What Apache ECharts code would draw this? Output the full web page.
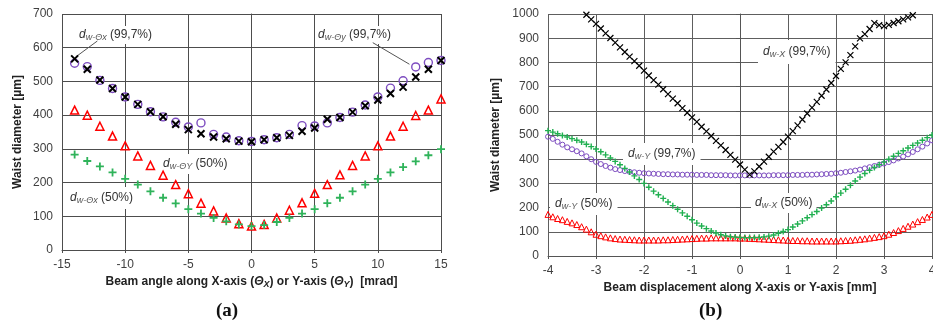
<!DOCTYPE html>
<html>
<head>
<meta charset="utf-8">
<script src="https://cdn.jsdelivr.net/npm/echarts@6/dist/echarts.min.js"></script>
<style>
html,body{margin:0;padding:0;background:#fff;}
#main{width:933px;height:324px;}
</style>
</head>
<body>
<div id="main"></div>
<script>
// ---------- (a) beam angle [mrad] ----------
const angle = [-14,-13,-12,-11,-10,-9,-8,-7,-6,-5,-4,-3,-2,-1,0,1,2,3,4,5,6,7,8,9,10,11,12,13,14,15];
// d w-θx (99,7%)  black x
const dThX997 = [567,536,504,479,454,432,410,395,373,357,345,335,330,323,321,327,333,340,352,362,388,393,409,428,445,464,483,513,536,562];
// d w-θy (99,7%)  purple circles
const dThY997 = [554,544,503,479,454,432,410,395,379,365,377,343,335,324,322,327,333,343,369,368,377,393,409,430,454,480,502,543,556,562];
// d w-θy (50%)  red triangles
const dThY50 = [415,400,367,338,309,279,251,222,194,167,139,116,95,78,71,76,95,118,140,168,194,223,251,279,309,338,367,399,415,448];
// d w-θx (50%)  green plus
const dThX50 = [283,264,248,230,211,194,174,155,138,121,108,95,85,76,71,74,83,95,108,121,139,155,174,194,211,230,246,263,281,299];

// ---------- (b) beam displacement [mm] ----------
const disp = [-4.0,-3.9,-3.8,-3.7,-3.6,-3.5,-3.4,-3.3,-3.2,-3.1,-3.0,-2.9,-2.8,-2.7,-2.6,-2.5,-2.4,-2.3,-2.2,-2.1,
  -2.0,-1.9,-1.8,-1.7,-1.6,-1.5,-1.4,-1.3,-1.2,-1.1,-1.0,-0.9,-0.8,-0.7,-0.6,-0.5,-0.4,-0.3,-0.2,-0.1,
  0.0,0.1,0.2,0.3,0.4,0.5,0.6,0.7,0.8,0.9,1.0,1.1,1.2,1.3,1.4,1.5,1.6,1.7,1.8,1.9,
  2.0,2.1,2.2,2.3,2.4,2.5,2.6,2.7,2.8,2.9,3.0,3.1,3.2,3.3,3.4,3.5,3.6,3.7,3.8,3.9,4.0];
// d w-X (99,7%)  black x
const dX997 = [null,null,null,null,null,null,null,null,997,978,959,940,920,901,882,862,843,824,805,786,
  766,746,727,708,689,669,650,631,611,592,573,554,534,515,496,476,457,438,418,398,
  378,357,336,350,370,390,410,431,451,471,493,516,540,564,589,613,637,662,688,715,
  744,773,800,830,866,899,917,938,962,954,950,955,963,970,978,986,995,null,null,null,null];
// d w-Y (99,7%)  purple circles
const dY997 = [493,484,472,460,449,441,433,424,412,400,389,380,372,365,359,355,351,348,346,344,
  342,341,340,339,338,338,337,337,336,336,336,335,335,335,334,334,334,334,333,333,
  333,333,333,333,333,333,333,334,334,334,334,335,335,335,336,336,337,338,339,340,
  342,344,347,350,353,357,362,367,372,377,382,388,395,403,411,420,430,441,452,465,478];
// d w-X (50%)  green plus
const dX50 = [518,512,505,498,492,485,478,471,462,452,442,431,418,405,391,377,362,347,331,316,
  300,284,268,253,238,223,208,193,178,164,150,136,124,113,103,95,88,83,80,78,
  77,76,76,76,77,79,82,87,94,101,109,120,132,145,158,171,184,198,212,227,
  245,260,276,292,310,326,341,354,366,377,388,400,412,424,435,446,457,467,478,489,500];
// d w-Y (50%)  red triangles
const dY50 = [172,162,155,150,143,137,130,121,111,100,90,84,79,75,72,70,69,68,67,66,
  66,66,66,66,67,67,68,69,70,71,72,73,74,74,75,75,75,75,75,75,
  74,74,73,72,71,70,69,68,67,66,65,64,64,63,63,62,62,62,62,62,
  62,63,64,65,67,69,71,74,77,80,84,90,97,105,114,123,132,142,151,161,172];

const CROSS = 'path://M0,0L10,10M10,0L0,10';
const PLUS = 'path://M5,0L5,10M0,5L10,5';

function pairs(xs, ys){
  return xs.map((x,i)=>[x, ys[i]]).filter(p=>p[1]!==null);
}

const chart = echarts.init(document.getElementById('main'));

const tickFont = {color:'#404040', fontSize:12, fontFamily:'Liberation Sans, Arial, sans-serif'};
const nameFont = {color:'#222', fontSize:12, fontWeight:'bold', fontFamily:'Liberation Sans, Arial, sans-serif'};

function scat(name, data, xi, sym, size, col, bw){
  return {
    name:name, type:'scatter', xAxisIndex:xi, yAxisIndex:xi, z:5,
    data:data, symbol:sym, symbolSize:size,
    itemStyle:{color:'rgba(0,0,0,0)', borderColor:col, borderWidth:bw, opacity:1},
    emphasis:{disabled:true}, silent:true, animation:false
  };
}

// annotation label (white box hides the grid behind it)
function note(x, y, sub, tail, pad){
  return {
    type:'text', left:x, top:y, z:1,
    style:{
      text:'{d|d}{s|' + sub + '}{n| ' + tail + '}',
      backgroundColor:'#fff', padding:pad || [3,3],
      rich:{
        d:{fontSize:12, fontStyle:'italic', fill:'#333', fontFamily:'Liberation Sans', verticalAlign:'middle', lineHeight:14},
        s:{fontSize:9, fontStyle:'italic', fill:'#555', fontFamily:'Liberation Sans', verticalAlign:'bottom', lineHeight:14, padding:[5,0,0,0]},
        n:{fontSize:12, fill:'#333', fontFamily:'Liberation Sans', verticalAlign:'middle', lineHeight:14}
      }
    }
  };
}

const arrowLine = {
  symbol:['none','arrow'], symbolSize:[0,7], silent:true, animation:false,
  label:{show:false}, lineStyle:{color:'#555', width:1, type:'solid'}
};

const blackA = scat('dThX997', pairs(angle,dThX997), 0, CROSS, 7, '#000', 2);
blackA.markLine = Object.assign({}, arrowLine, {
  data:[
    [{coord:[-12.2,620]},{coord:[-13.9,573]}],
    [{coord:[9.6,615]},{coord:[12.5,551]}]
  ]
});

chart.setOption({
  backgroundColor:'#fff',
  animation:false,
  grid:[
    {left:62, top:14, width:379, height:236, outerBoundsMode:'none'},
    {left:548, top:14, width:384, height:242, outerBoundsMode:'none'}
  ],
  xAxis:[
    {
      type:'value', gridIndex:0, min:-15, max:15, interval:5,
      axisLine:{lineStyle:{color:'#4d4d4d'}}, axisTick:{show:true, length:3, lineStyle:{color:'#4d4d4d'}},
      splitLine:{show:true, lineStyle:{color:'#4d4d4d'}},
      axisLabel:Object.assign({margin:9}, tickFont),
      name:'Beam angle along X-axis ({t|Θ}{ts|X}) or Y-axis ({t|Θ}{ts|Y})  [mrad]',
      nameLocation:'middle', nameGap:25,
      nameTextStyle:Object.assign({
        rich:{
          t:{fontSize:12, fontWeight:'bold', fontStyle:'italic', color:'#222'},
          ts:{fontSize:9, fontWeight:'bold', fontStyle:'italic', color:'#222', verticalAlign:'bottom', padding:[5,0,0,0]}
        }
      }, nameFont)
    },
    {
      type:'value', gridIndex:1, min:-4, max:4, interval:1,
      axisLine:{lineStyle:{color:'#555'}}, axisTick:{show:true, length:3, lineStyle:{color:'#555'}},
      splitLine:{show:true, lineStyle:{color:'#5e5e5e'}},
      axisLabel:Object.assign({margin:9}, tickFont),
      name:'Beam displacement along X-axis or Y-axis [mm]',
      nameLocation:'middle', nameGap:24, nameTextStyle:nameFont
    }
  ],
  yAxis:[
    {
      type:'value', gridIndex:0, min:0, max:700, interval:100,
      axisLine:{show:true, lineStyle:{color:'#4d4d4d'}}, axisTick:{show:true, length:4, lineStyle:{color:'#4d4d4d'}},
      splitLine:{show:true, lineStyle:{color:'#4d4d4d'}},
      axisLabel:Object.assign({margin:9}, tickFont),
      name:'Waist diameter [µm]', nameLocation:'middle', nameGap:38, nameTextStyle:nameFont
    },
    {
      type:'value', gridIndex:1, min:0, max:1000, interval:100,
      axisLine:{show:true, lineStyle:{color:'#555'}}, axisTick:{show:true, length:4, lineStyle:{color:'#555'}},
      splitLine:{show:true, lineStyle:{color:'#5e5e5e'}},
      axisLabel:Object.assign({margin:9, formatter:v=>String(v)}, tickFont),
      name:'Waist diameter [µm]', nameLocation:'middle', nameGap:46, nameTextStyle:nameFont
    }
  ],
  series:[
    scat('dThY50', pairs(angle,dThY50), 0, 'triangle', 8, '#ff0000', 1.5),
    scat('dThX50', pairs(angle,dThX50), 0, PLUS, 8, '#2fb35a', 1.8),
    scat('dThY997', pairs(angle,dThY997), 0, 'circle', 8, '#7d4cc0', 1.4),
    blackA,

    scat('dY50', pairs(disp,dY50), 1, 'triangle', 6, '#ff0000', 1),
    scat('dY997', pairs(disp,dY997), 1, 'circle', 5, '#7d4cc0', 1),
    scat('dX50', pairs(disp,dX50), 1, PLUS, 6, '#20b050', 1.4),
    scat('dX997', pairs(disp,dX997), 1, CROSS, 6, '#000', 1.2)
  ],
  graphic:[
    note(76, 26, 'w-Θx', '(99,7%)', [2,3]),
    note(315, 26, 'w-Θy', '(99,7%)', [2,3]),
    note(159, 154, 'w-ΘY', '(50%)', [3,4]),
    note(66, 187, 'w-Θx', '(50%)', [4,4]),

    note(758, 40, 'w-X', '(99,7%)', [5,5]),
    note(623, 143, 'w-Y', '(99,7%)', [4,5]),
    note(550, 193, 'w-Y', '(50%)', [4,5]),
    note(751, 193, 'w-X', '(50%)', [3,4]),

    {type:'text', left:216, top:302, style:{text:'(a)', fill:'#111', font:'bold 19px "Liberation Serif", serif'}},
    {type:'text', left:699, top:302, style:{text:'(b)', fill:'#111', font:'bold 19px "Liberation Serif", serif'}}
  ]
});
</script>
</body>
</html>
